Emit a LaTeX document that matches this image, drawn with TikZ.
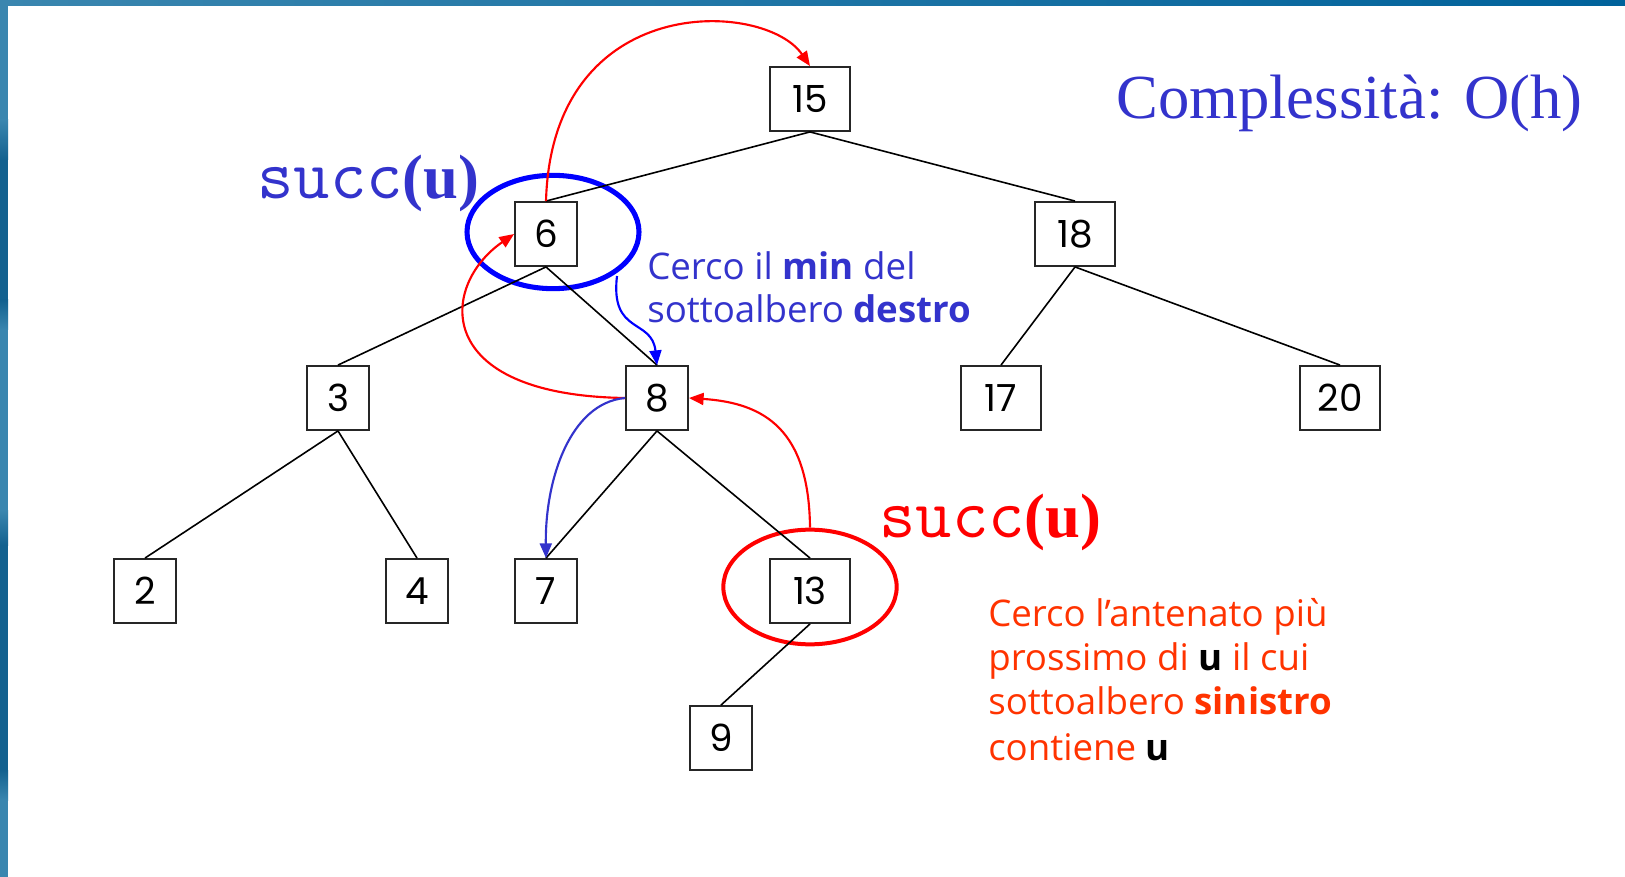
\documentclass[tikz,border=0pt]{standalone}
\usepackage{fontspec}
\setmainfont{Liberation Serif}
\newfontfamily\nodefont{Poppins}
\newfontfamily\comicfont{Open Sans}
\usetikzlibrary{arrows.meta,shapes.geometric}
\definecolor{tblue}{HTML}{3333CC}
\definecolor{pblue}{HTML}{0000FF}
\definecolor{tred}{HTML}{FF0000}
\definecolor{ored}{HTML}{FF3300}
\definecolor{barA}{HTML}{3A86AF}
\definecolor{barB}{HTML}{00629B}
\definecolor{barC}{HTML}{13618F}
\begin{document}
\begin{tikzpicture}[x=0.75pt,y=-0.75pt,
  box/.style={draw=black!85, line width=1.4pt, fill=white, inner sep=0pt,
    minimum width=46.5pt, minimum height=48pt,
    font=\nodefont\fontsize{28}{30}\selectfont},
  wide/.style={minimum width=60pt},
  edge/.style={line width=1.2pt},
  arr/.style={line width=1.6pt, -{Triangle[length=11pt,width=9pt]}},
  ring/.style={ellipse, inner sep=0pt, fill=none},
  succlbl/.style={anchor=base west, inner sep=0pt},
  comic/.style={anchor=base west, inner sep=0pt, font=\comicfont\fontsize{27.5}{30}\selectfont}]
\useasboundingbox (0,0) rectangle (1625,877);
\fill[white] (0,0) rectangle (1625,877);
% frame bars
\shade[left color=barA, right color=barB] (0,0) rectangle (1625,6);
\fill[barA] (0,0) rectangle (8,877);
\shade[top color=barA, bottom color=barC] (0,120) rectangle (8,160);
\fill[barC] (0,160) rectangle (8,300);
\shade[top color=barC, bottom color=barA] (0,300) rectangle (8,330);
\shade[top color=barA, bottom color=barC] (0,510) rectangle (8,545);
\fill[barC] (0,545) rectangle (8,770);
\shade[top color=barC, bottom color=barA] (0,770) rectangle (8,800);

% tree nodes
\node[box,wide] (n15) at (810,99) {15};
\node[box] (n6) at (546,234) {6};
\node[box,wide] (n18) at (1075,234) {18};
\node[box] (n3) at (338,398) {3};
\node[box] (n8) at (657,398) {8};
\node[box,wide] (n17) at (1001,398) {17};
\node[box,wide] (n20) at (1340,398) {20};
\node[box] (n2) at (145,591) {2};
\node[box] (n4) at (417,591) {4};
\node[box] (n7) at (546,591) {7};
\node[box,wide] (n13) at (810,591) {13};
\node[box] (n9) at (721,738) {9};

% ellipses
\node[ring, draw=pblue, line width=3.8pt, minimum width=129pt, minimum height=85pt] (e6) at (553,232) {};
\node[ring, draw=tred, line width=3pt, minimum width=130pt, minimum height=86pt] (e13) at (810,587) {};

% tree edges
\draw[edge] (n15.south) -- (n6.north);
\draw[edge] (n15.south) -- (n18.north);
\draw[edge] (n6.south) -- (n3.north);
\draw[edge] (n6.south) -- (n8.north);
\draw[edge] (n18.south) -- (n17.north);
\draw[edge] (n18.south) -- (n20.north);
\draw[edge] (n3.south) -- (n2.north);
\draw[edge] (n3.south) -- (n4.north);
\draw[edge] (n8.south) -- (n7.north);
\draw[edge] (n8.south) -- (n13.north);
\draw[edge] (n13.south) -- (n9.north);

% arrows
\coordinate (bstart) at (617,276);
\draw[arr, tred] (n6.north) .. controls (552,-10) and (765,0) .. (n15.north);
\draw[arr, tred] (n8.west) .. controls (430,395) and (440,285) .. (n6.west);
\draw[arr, pblue] (bstart) .. controls (610,335) and (652,318) .. (n8.north);
\draw[arr, tblue] (n8.west) .. controls (570,403) and (545,480) .. (n7.north);
\draw[arr, tred] (e13.north) .. controls (809,430) and (765,403) .. (n8.east);

% labels
\node[anchor=base west, inner sep=0pt, text=tblue, font=\fontsize{47}{50}\selectfont] (cplx) at (1116,119) {Complessità: O(h)};
\node[succlbl, text=tblue] (sb) at (257,199) {{\ttfamily\fontsize{53}{55}\selectfont succ}{\bfseries\fontsize{47}{50}\selectfont (u)}};
\node[succlbl, text=tred] (sr) at (879,537) {{\ttfamily\fontsize{53}{55}\selectfont succ}{\bfseries\fontsize{47}{50}\selectfont (u)}};

\node[comic, text=tblue] (b1) at (647,280) {Cerco il \textbf{min} del};
\node[comic, text=tblue] (b2) at (647,323) {sottoalbero \textbf{destro}};

\node[comic, text=ored] (r1) at (988,626) {Cerco l’antenato più};
\node[comic, text=ored] (r2) at (988,670) {prossimo di \textcolor{black}{\textbf{u}} il cui};
\node[comic, text=ored] (r3) at (988,714) {sottoalbero \textbf{sinistro}};
\node[comic, text=ored] (r4) at (988,760) {contiene \textcolor{black}{\textbf{u}}};
\end{tikzpicture}
\end{document}
